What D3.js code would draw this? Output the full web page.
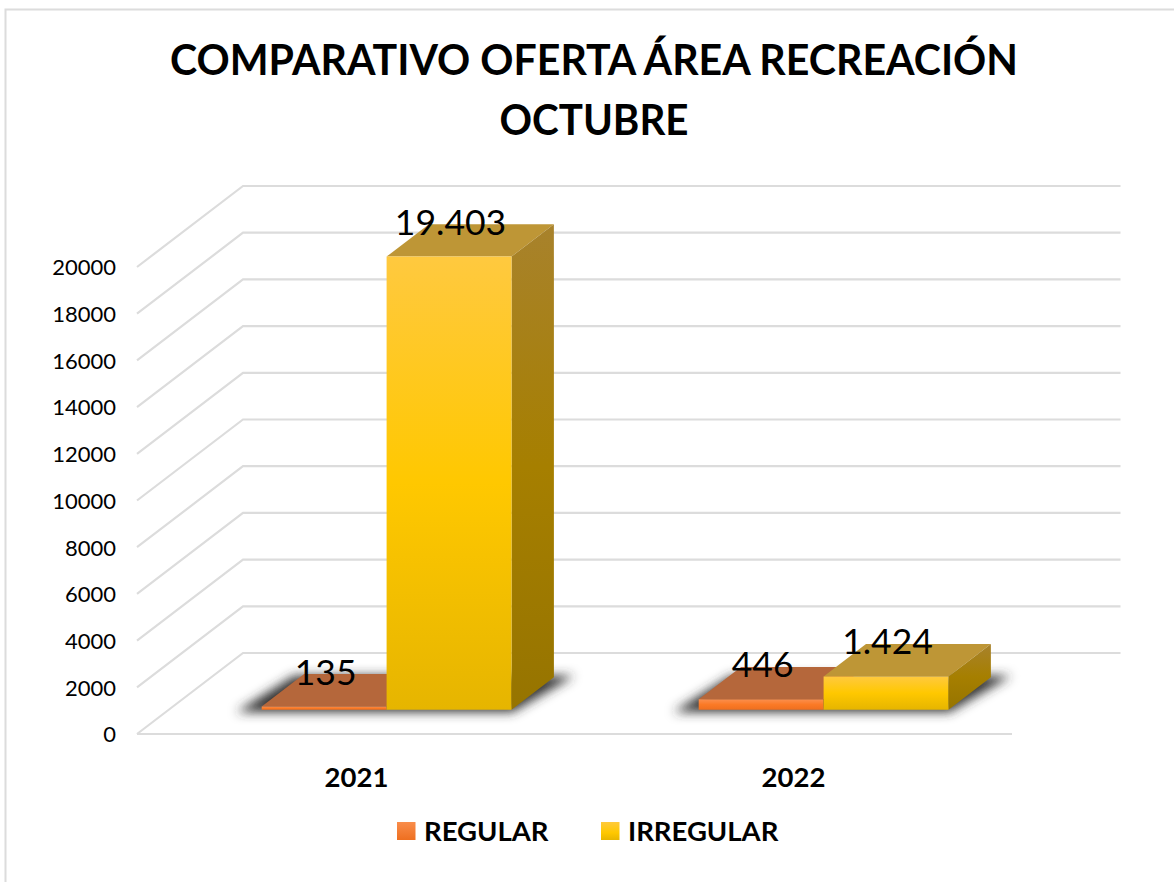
<!DOCTYPE html>
<html>
<head>
<meta charset="utf-8">
<script src="https://cdn.jsdelivr.net/npm/d3@7"></script>
<style>
  html, body { margin: 0; padding: 0; background: #fff; }
  svg { display: block; font-family: Lato, "Open Sans", sans-serif; }
</style>
</head>
<body>
<div id="chart"></div>
<script>
// Data
const years = ["2021", "2022"];
const seriesNames = ["REGULAR", "IRREGULAR"];
const regularValues = [135, 446];
const irregularValues = [19403, 1424];
const dataLabels = [["135", "446"], ["19.403", "1.424"]];
const yTicks = [0, 2000, 4000, 6000, 8000, 10000, 12000, 14000, 16000, 18000, 20000];
const titleLines = ["COMPARATIVO OFERTA ÁREA RECREACIÓN", "OCTUBRE"];

// Dimensions
const dimensions = {
  width: 1174,
  height: 882,
  left: 137,
  right: 1012,
  backRight: 1120.5,
  floor: 734,
  top: 267,
  depthX: 106,
  depthY: -81,
};

const svg = d3
  .select("#chart")
  .append("svg")
  .attr("width", dimensions.width)
  .attr("height", dimensions.height);

const defs = svg.append("defs");

function addGradient(id, stops) {
  const g = defs
    .append("linearGradient")
    .attr("id", id)
    .attr("x1", 0)
    .attr("y1", 0)
    .attr("x2", 0)
    .attr("y2", 1);
  stops.forEach((s) => g.append("stop").attr("offset", s[0]).attr("stop-color", s[1]));
}

addGradient("frontRegular", [[0, "#fb8f4e"], [0.5, "#fb7a26"], [1, "#ef6f1f"]]);
addGradient("frontIrregular", [[0, "#ffc93f"], [0.5, "#ffc800"], [1, "#e6b500"]]);
addGradient("sideIrregular", [[0, "#a8822c"], [0.5, "#a67f00"], [1, "#967400"]]);
addGradient("legendRegular", [[0, "#f98d4b"], [1, "#ee6f20"]]);
addGradient("legendIrregular", [[0, "#ffca3c"], [0.6, "#ffc800"], [1, "#e8b600"]]);

defs
  .append("filter")
  .attr("id", "blur")
  .attr("x", "-20%")
  .attr("y", "-60%")
  .attr("width", "140%")
  .attr("height", "220%")
  .append("feGaussianBlur")
  .attr("stdDeviation", 5.5);

// Scales
const xScale = d3.scaleBand().domain(years).range([dimensions.left - 0.7, dimensions.right - 1.7]);
const seriesScale = d3
  .scaleBand()
  .domain(seriesNames)
  .range([0, xScale.bandwidth()])
  .paddingInner(0)
  .paddingOuter(0.75);
const yScale = d3.scaleLinear().domain([0, 20000]).range([dimensions.floor, dimensions.top]);

// 3d projection: depth 0 is the front of the floor, 1 the back wall
const project = (x, value, depth) => [
  x + dimensions.depthX * depth,
  yScale(value) + dimensions.depthY * depth,
];
const poly = (points) => points.map((p) => p.map((n) => n.toFixed(1)).join(",")).join(" ");

const barNear = 0.3;
const barFar = 0.7;

// Chart frame
svg
  .append("rect")
  .attr("x", 5.5)
  .attr("y", 9.5)
  .attr("width", 1180)
  .attr("height", 890)
  .attr("fill", "none")
  .attr("stroke", "#dcdcdc")
  .attr("stroke-width", 2);

// Gridlines
const gridGroup = svg
  .append("g")
  .attr("fill", "none")
  .attr("stroke", "#dcdcdc")
  .attr("stroke-width", 2.2);
gridGroup
  .selectAll("polyline")
  .data(yTicks)
  .join("polyline")
  .attr("points", (d) =>
    poly([
      project(dimensions.left, d, 0),
      project(dimensions.left, d, 1),
      [dimensions.backRight, project(dimensions.left, d, 1)[1]],
    ])
  );
gridGroup
  .append("line")
  .attr("x1", dimensions.left)
  .attr("x2", dimensions.right)
  .attr("y1", dimensions.floor)
  .attr("y2", dimensions.floor);

// Axis labels
svg
  .append("g")
  .attr("transform", `translate(${dimensions.left - 21}, 0)`)
  .attr("font-size", 22)
  .attr("fill", "#000")
  .selectAll("text")
  .data(yTicks)
  .join("text")
  .attr("x", 0)
  .attr("y", (d) => yScale(d))
  .attr("dy", "0.38em")
  .attr("text-anchor", "end")
  .text((d) => d);

svg
  .append("g")
  .selectAll("text")
  .data(years)
  .join("text")
  .attr("x", (d) => xScale(d) + xScale.bandwidth() / 2 + 1.7)
  .attr("y", 787)
  .attr("text-anchor", "middle")
  .attr("font-size", 27.5)
  .attr("font-weight", 700)
  .text((d) => d);

// Bars
const bars = [];
seriesNames.forEach((name, s) => {
  const values = s === 0 ? regularValues : irregularValues;
  years.forEach((year, i) => {
    bars.push({ year, name, s, i, value: values[i], label: dataLabels[s][i] });
  });
});

const barX = (d) => xScale(d.year) + seriesScale(d.name);
const barW = seriesScale.bandwidth();

// floor shadows, one for each category
const shadowGroup = svg.append("g").attr("filter", "url(#blur)").attr("fill", "#333");
years.forEach((year) => {
  const x0 = xScale(year) + seriesScale(seriesNames[0]);
  const x1 = xScale(year) + seriesScale(seriesNames[1]) + barW;
  shadowGroup
    .append("polygon")
    .attr("points", poly([
      project(x0 - 22, 0, barNear - 0.03),
      project(x1 + 4, 0, barNear - 0.03),
      project(x1 + 18, 0, barFar + 0.02),
      project(x0 - 12, 0, barFar + 0.02),
    ]));
});

const barGroups = svg
  .append("g")
  .selectAll("g")
  .data(bars)
  .join("g");

// top face
barGroups
  .append("polygon")
  .attr("fill", (d) => (d.s === 0 ? "#b5673b" : "#be9636"))
  .attr("points", (d) =>
    poly([
      project(barX(d), d.value, barNear),
      project(barX(d) + barW, d.value, barNear),
      project(barX(d) + barW, d.value, barFar),
      project(barX(d), d.value, barFar),
    ])
  );

// right side face, only visible on the yellow series
barGroups
  .filter((d) => d.s === 1)
  .append("polygon")
  .attr("fill", "url(#sideIrregular)")
  .attr("points", (d) =>
    poly([
      project(barX(d) + barW, d.value, barNear),
      project(barX(d) + barW, d.value, barFar),
      project(barX(d) + barW, 0, barFar),
      project(barX(d) + barW, 0, barNear),
    ])
  );

// front face
barGroups
  .append("polygon")
  .attr("fill", (d) => (d.s === 0 ? "url(#frontRegular)" : "url(#frontIrregular)"))
  .attr("points", (d) =>
    poly([
      project(barX(d), d.value, barNear),
      project(barX(d) + barW, d.value, barNear),
      project(barX(d) + barW, 0, barNear),
      project(barX(d), 0, barNear),
    ])
  );

// Data labels
svg
  .append("g")
  .selectAll("text")
  .data(bars)
  .join("text")
  .attr("x", (d) => project(barX(d) + barW / 2, d.value, barNear)[0] + 1.5)
  .attr("y", (d) => project(0, d.value, barNear)[1] - 22)
  .attr("text-anchor", "middle")
  .attr("font-size", 35.5)
  .attr("fill", "#000")
  .text((d) => d.label);

// Title, squeezed a bit since Lato runs wider than the original face
const titleWidths = [848, 189];
svg
  .append("g")
  .selectAll("text")
  .data(titleLines)
  .join("text")
  .attr("x", 594)
  .attr("y", (d, i) => 75 + i * 60)
  .attr("text-anchor", "middle")
  .attr("font-size", 42)
  .attr("font-weight", 700)
  .attr("textLength", (d, i) => titleWidths[i])
  .attr("lengthAdjust", "spacingAndGlyphs")
  .text((d) => d);

// Legend
const legendX = [397, 601];
const legend = svg
  .append("g")
  .selectAll("g")
  .data(seriesNames)
  .join("g")
  .attr("transform", (d, i) => `translate(${legendX[i]}, 822)`);
legend
  .append("rect")
  .attr("width", 18.5)
  .attr("height", 18)
  .attr("fill", (d, i) => (i === 0 ? "url(#legendRegular)" : "url(#legendIrregular)"));
legend
  .append("text")
  .attr("x", 27)
  .attr("y", 19)
  .attr("font-size", 27.5)
  .attr("font-weight", 700)
  .text((d) => d);
</script>
</body>
</html>
